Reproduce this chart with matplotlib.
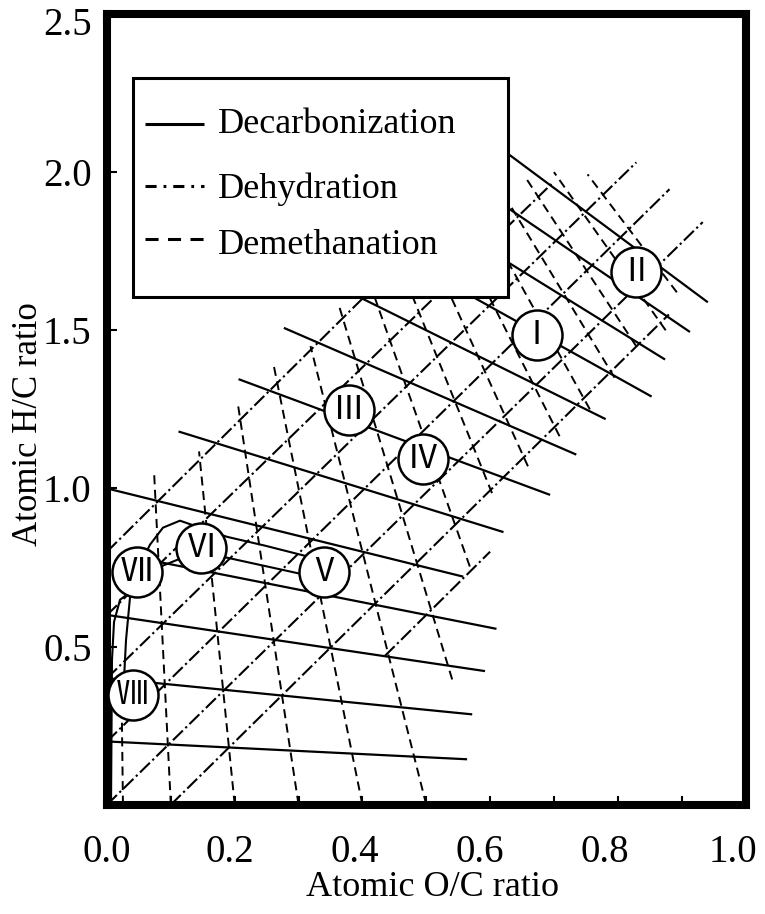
import matplotlib
matplotlib.use("Agg")
import matplotlib.pyplot as plt
import matplotlib.transforms as mtransforms
import numpy as np
from matplotlib.patches import Rectangle
from matplotlib.lines import Line2D

plt.rcParams['font.family'] = ['Liberation Serif', 'DejaVu Serif']
plt.rcParams['lines.scale_dashes'] = False

# Decarbonization (loss of CO2): straight lines radiating from (O/C, H/C) = (2, 0).
# Each line is identified by its H/C value at O/C = 0 and drawn between two O/C values.
decarb_b = [0.2, 0.4, 0.6, 0.8, 1.0, 1.25, 1.5, 1.75, 2.0, 2.25, 2.5, 2.75, 3.0]
decarb_x0 = [0.0, 0.0, 0.0, 0.02, 0.0, 0.112, 0.206, 0.277, 0.35, 0.55, 0.55, 0.55, 0.55]
decarb_x1 = [0.564, 0.572, 0.592, 0.610, 0.558, 0.621, 0.694, 0.735, 0.781, 0.853, 0.874, 0.913, 0.941]

# Dehydration (loss of H2O): lines of slope ~2, given by their end points
dehyd_x0 = [0.0, 0.0, 0.0, 0.0, 0.0, 0.10, 0.435]
dehyd_y0 = [0.8, 0.6, 0.4, 0.2, 0.0, 0.0, 0.47]
dehyd_x1 = [0.62, 0.70, 0.829, 0.881, 0.933, 0.88, 0.60]
dehyd_y1 = [2.04, 1.97, 2.031, 1.946, 1.842, 1.55, 0.80]

# Demethanation (loss of CH4): lines radiating from (O/C, H/C) = (0, 4).
# Each line is identified by its O/C value at H/C = 0 and drawn between two H/C values.
demeth_e = [0.025, 0.1, 0.2, 0.3, 0.4, 0.5, 0.6, 0.7, 0.8, 0.9, 1.0, 1.1, 1.2, 1.3, 1.4, 1.5]
demeth_y0 = [0.0, 0.0, 0.0, 0.0, 0.0, 0.0, 0.396, 0.753, 0.985, 1.07, 1.165, 1.25, 1.35, 1.45, 1.50, 1.62]
demeth_y1 = [0.26, 1.044, 1.117, 1.26, 1.386, 1.45, 1.58, 1.65, 1.75, 1.85, 1.90, 1.95, 2.0, 1.987, 2.0, 1.993]

# Coalification band boundaries
band_upper_x = [0.310, 0.2475, 0.188, 0.1457, 0.1143, 0.0877, 0.0673, 0.0517, 0.036, 0.0298, 0.0266, 0.025]
band_upper_y = [0.787, 0.819, 0.847, 0.876, 0.898, 0.876, 0.822, 0.759, 0.655, 0.521, 0.395, 0.30]
band_lower_x = [0.310, 0.188, 0.1457, 0.111, 0.0877, 0.0673, 0.0204, 0.011, 0.0078, 0.0063]
band_lower_y = [0.727, 0.781, 0.787, 0.775, 0.756, 0.718, 0.648, 0.578, 0.458, 0.0]

# Circled material labels
mat_labels = ['Ⅰ', 'Ⅱ', 'Ⅲ', 'Ⅳ', 'Ⅴ', 'Ⅵ', 'Ⅶ', 'Ⅷ']
mat_x = [0.673, 0.8285, 0.379, 0.495, 0.340, 0.148, 0.0465, 0.041]
mat_y = [1.486, 1.685, 1.249, 1.094, 0.737, 0.811, 0.737, 0.347]

x_ticks = [0.0, 0.2, 0.4, 0.6, 0.8, 1.0]
x_ticklabels = ['0.0', '0.2', '0.4', '0.6', '0.8', '1.0']
y_ticks = [0.5, 1.0, 1.5, 2.0, 2.5]
y_ticklabels = ['0.5', '1.0', '1.5', '2.0', '2.5']

legend_names = ['Decarbonization', 'Dehydration', 'Demethanation']

W, H = 765, 914
fig = plt.figure(figsize=(W / 100, H / 100), dpi=100)
ax_left, ax_right, ax_top, ax_bottom = 107, 745.5, 14, 804.7
ax = fig.add_axes([ax_left / W, 1 - ax_bottom / H, (ax_right - ax_left) / W, (ax_bottom - ax_top) / H])
ax.set_xlim(0, 1.0)
ax.set_ylim(0, 2.5)

DASHDOT = (0, (10, 2.5, 1.6, 2.5))
DASHED = (0, (6.5, 4.0))

for b, x0, x1 in zip(decarb_b, decarb_x0, decarb_x1):
    xs = np.array([x0, x1])
    ax.plot(xs, b * (1 - xs / 2), color='black', lw=1.6, solid_capstyle='butt', zorder=3)

for x0, y0, x1, y1 in zip(dehyd_x0, dehyd_y0, dehyd_x1, dehyd_y1):
    ax.plot([x0, x1], [y0, y1], color='black', lw=1.5, linestyle=DASHDOT,
            dash_capstyle='butt', zorder=3)

for e, y0, y1 in zip(demeth_e, demeth_y0, demeth_y1):
    ys = np.array([y0, y1])
    ax.plot(e * (1 - ys / 4), ys, color='black', lw=1.4, linestyle=DASHED,
            dash_capstyle='butt', zorder=3)

ax.plot(band_upper_x, band_upper_y, color='black', lw=1.5, zorder=3)
ax.plot(band_lower_x, band_lower_y, color='black', lw=1.5, zorder=3)

for s, x, y in zip(mat_labels, mat_x, mat_y):
    ax.plot(x, y, 'o', ms=36, mfc='white', mec='black', mew=1.8, zorder=6)
    ax.text(x, y, s, ha='center', va='center', fontsize=23,
            family=['Noto Sans CJK JP', 'DejaVu Sans'], zorder=7)

# Frame and ticks
for sp in ax.spines.values():
    sp.set_linewidth(5.8)
ax.set_xticks(x_ticks)
ax.set_xticklabels(x_ticklabels)
ax.set_xticks(np.arange(0.1, 1.0, 0.2), minor=True)
ax.set_yticks(y_ticks)
ax.set_yticklabels(y_ticklabels)
ax.tick_params(axis='both', which='both', direction='in', width=1.5,
               labelsize=28, top=False, right=False)
ax.tick_params(axis='x', which='both', length=6.5, pad=21)
ax.tick_params(axis='y', which='both', length=7.5, pad=11)

# Nudge the number labels slightly (pixel offsets) so the row stays inside the figure
x_label_shift_px = [0, -4.7, -7.4, -10, -12.8, -12.5]
for lab, dx in zip(ax.get_xticklabels(), x_label_shift_px):
    lab.set_transform(lab.get_transform() +
                      mtransforms.ScaledTranslation(dx / 100, 0, fig.dpi_scale_trans))
y_label_shift_px = [0, 0, 0, 0, -7]
for lab, dy in zip(ax.get_yticklabels(), y_label_shift_px):
    lab.set_transform(lab.get_transform() +
                      mtransforms.ScaledTranslation(0, dy / 100, fig.dpi_scale_trans))

fig.text(433 / W, 1 - 888 / H, 'Atomic O/C ratio', ha='center', va='center', fontsize=26)
fig.text(29 / W, 1 - 424 / H, 'Atomic H/C ratio', ha='center', va='center',
         rotation=90, fontsize=25)

# Legend box drawn in axes coordinates
def fx(px):
    return (px - ax_left) / (ax_right - ax_left)

def fy(py):
    return (ax_bottom - py) / (ax_bottom - ax_top)

ax.add_patch(Rectangle((fx(133), fy(297)), fx(507.6) - fx(133), fy(78) - fy(297),
                       transform=ax.transAxes, facecolor='white', edgecolor='black',
                       lw=2.2, zorder=10, clip_on=False))
sample_styles = ['-', (0, (8, 5, 2, 5)), (0, (9.4, 6.8))]
sample_y = [124, 186, 239]
text_base = [133, 198, 254]
for name, ls, sy, ty in zip(legend_names, sample_styles, sample_y, text_base):
    ax.add_line(Line2D([fx(145), fx(204)], [fy(sy), fy(sy)], transform=ax.transAxes,
                       color='black', lw=2.2, linestyle=ls, dash_capstyle='butt',
                       solid_capstyle='butt', zorder=11))
    ax.text(fx(218), fy(ty), name, transform=ax.transAxes, ha='left', va='baseline',
            fontsize=26, zorder=11)

fig.savefig('out.png', dpi=100)
